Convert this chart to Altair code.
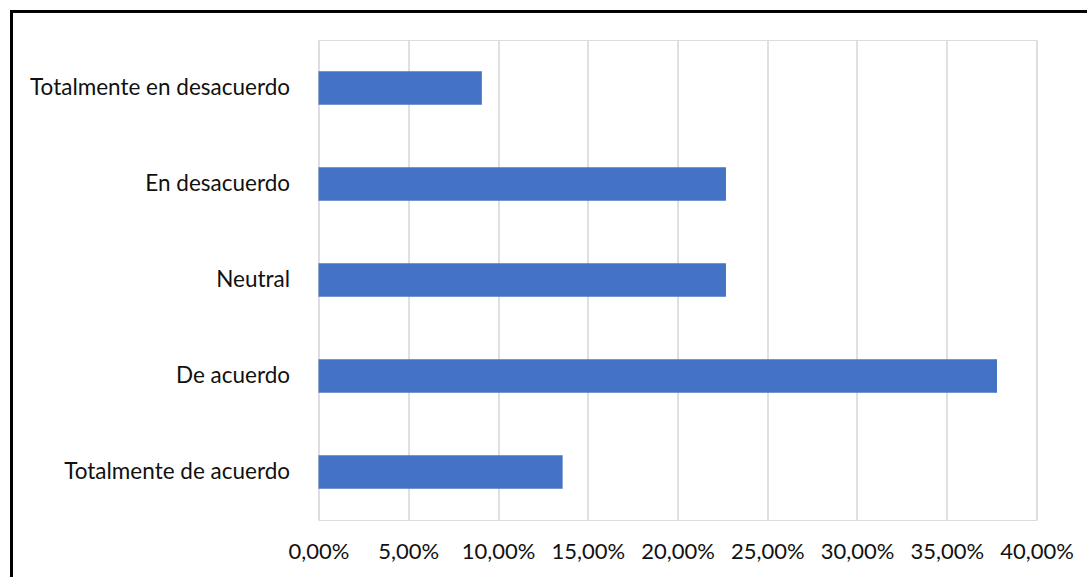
import altair as alt
import pandas as pd

categories = [
    "Totalmente en desacuerdo",
    "En desacuerdo",
    "Neutral",
    "De acuerdo",
    "Totalmente de acuerdo",
]
values = [0.0910, 0.2270, 0.2270, 0.3780, 0.1360]
tick_values = [0.0, 0.05, 0.10, 0.15, 0.20, 0.25, 0.30, 0.35, 0.40]

df = pd.DataFrame({"categoria": categories, "porcentaje": values})

FONT = "Lato"

bars = alt.Chart(df).mark_bar(color="#4472C4").encode(
    y=alt.Y(
        "categoria:N",
        sort=categories,
        title=None,
        scale=alt.Scale(paddingInner=0.65, paddingOuter=0.325),
        axis=alt.Axis(
            domain=False,
            ticks=False,
            grid=False,
            labelFont=FONT,
            labelFontSize=22.5,
            labelColor="#111111",
            labelPadding=29,
            labelLimit=400,
        ),
    ),
    x=alt.X(
        "porcentaje:Q",
        title=None,
        scale=alt.Scale(domain=[0, 0.4], nice=False),
        axis=alt.Axis(
            values=tick_values,
            labelExpr="replace(format(datum.value, '.2%'), '.', ',')",
            domain=False,
            ticks=False,
            grid=True,
            gridColor="#D9D9D9",
            gridWidth=1.6,
            labelFont=FONT,
            labelFontSize=22,
            labelColor="#111111",
            labelPadding=21,
            labelFlush=False,
            labelOverlap=False,
        ),
    ),
)

frame = alt.Chart(df).mark_rect(
    fill=None, filled=False, stroke="#000000", strokeWidth=2.5, clip=False
).encode(
    x=alt.value(-307),
    x2=alt.value(900),
    y=alt.value(-28.7),
    y2=alt.value(700),
)

chart = alt.layer(frame, bars).properties(
    width=718,
    height=480,
    autosize=alt.AutoSizeParams(type="none"),
    padding={"left": 318.5, "top": 40, "right": 50.5, "bottom": 57},
).configure_view(stroke=None).configure(background="#ffffff")

chart.save("out.html", embed_options={"renderer": "svg", "actions": False})
